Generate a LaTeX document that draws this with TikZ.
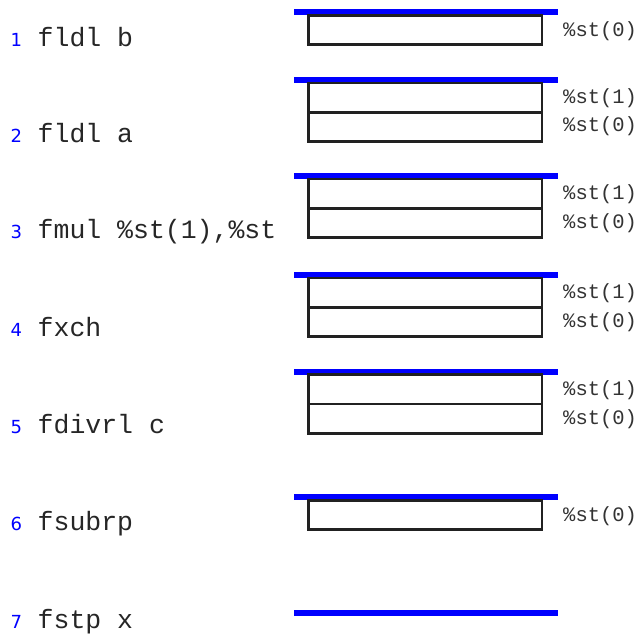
\documentclass[tikz,border=0pt]{standalone}
\usepackage{fontspec}
\usetikzlibrary{calc}
\newfontfamily\codefont{Liberation Mono}
\newfontfamily\numfont{DejaVu Sans}
\begin{document}
\begin{tikzpicture}[x=1pt,y=-1pt,
  topbar/.style={fill=blue, draw=none, inner sep=0pt, outer sep=0pt,
    minimum width=264pt, minimum height=6pt, anchor=south west},
  cell/.style={draw=black!87, line width=2.6pt, fill=white, inner sep=0pt,
    outer sep=0pt, minimum width=233.4pt, minimum height=29.3pt,
    anchor=north west},
  instr/.style={anchor=base west, inner sep=0pt, text=black!85,
    font=\codefont\fontsize{26.5}{30}\selectfont},
  lineno/.style={anchor=base west, inner sep=0pt, text=blue,
    font=\numfont\fontsize{18}{21}\selectfont},
  reg/.style={anchor=west, inner sep=0pt, text=black!80,
    font=\codefont\fontsize{20.5}{24}\selectfont}]
\useasboundingbox (0,0) rectangle (639,635);

% instruction listing
\foreach \n/\y/\txt in {1/46/{fldl b}, 2/142/{fldl a}, 3/238/{fmul \%st(1),\%st},
    4/336/{fxch}, 5/433/{fdivrl c}, 6/530/{fsubrp}, 7/628/{fstp x}} {
  \node[lineno] (n\n) at (10.5,\y) {\n};
  \node[instr] (i\n) at (37.5,\y) {\txt};
}

% stack tops (blue bars)
\node[topbar] (b1) at (294,15.3) {};
\node[topbar] (b2) at (294,82.9) {};
\node[topbar] (b3) at (294,178.9) {};
\node[topbar] (b4) at (294,278) {};
\node[topbar] (b5) at (294,374.7) {};
\node[topbar] (b6) at (294,500.3) {};
\node[topbar] (b7) at (294,615.7) {};

% register cells
\node[cell] (s1a) at (308.6,15.3) {};
\node[cell] (s2a) at (308.6,82.9) {};
\node[cell] (s2b) at (s2a.south west) {};
\node[cell] (s3a) at (308.6,178.9) {};
\node[cell] (s3b) at (s3a.south west) {};
\node[cell] (s4a) at (308.6,278) {};
\node[cell] (s4b) at (s4a.south west) {};
\node[cell] (s5a) at (308.6,374.7) {};
\node[cell] (s5b) at (s5a.south west) {};
\node[cell] (s6a) at (308.6,500.3) {};

% register names
\node[reg] (r1a) at ($(s1a.east)+(21,1.5)$) {\%st(0)};
\node[reg] (r2a) at ($(s2a.east)+(21,1)$) {\%st(1)};
\node[reg] (r2b) at ($(s2b.east)+(21,-0.5)$) {\%st(0)};
\node[reg] (r3a) at ($(s3a.east)+(21,1)$) {\%st(1)};
\node[reg] (r3b) at ($(s3b.east)+(21,0)$) {\%st(0)};
\node[reg] (r4a) at ($(s4a.east)+(21,1)$) {\%st(1)};
\node[reg] (r4b) at ($(s4b.east)+(21,0)$) {\%st(0)};
\node[reg] (r5a) at ($(s5a.east)+(21,1)$) {\%st(1)};
\node[reg] (r5b) at ($(s5b.east)+(21,1)$) {\%st(0)};
\node[reg] (r6a) at ($(s6a.east)+(21,1)$) {\%st(0)};
\end{tikzpicture}
\end{document}
